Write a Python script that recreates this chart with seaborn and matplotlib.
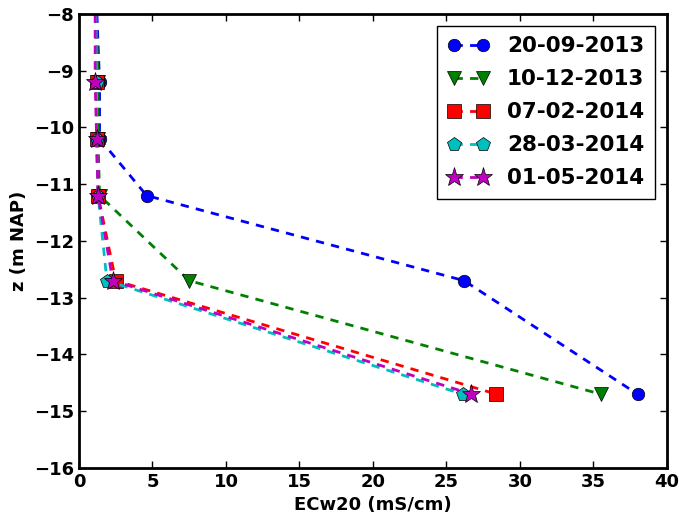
import matplotlib
matplotlib.use("Agg")
import matplotlib.pyplot as plt
import seaborn as sns
import pandas as pd

sns.set_style("ticks")
plt.rcParams['font.family'] = ['DejaVu Sans']
plt.rcParams['font.weight'] = 'bold'
for k in ['text.color', 'axes.labelcolor', 'xtick.color', 'ytick.color', 'axes.edgecolor']:
    plt.rcParams[k] = 'black'

depths = [-7.2, -9.2, -10.2, -11.2, -12.7, -14.7]
dates = ["20-09-2013", "10-12-2013", "07-02-2014", "28-03-2014", "01-05-2014"]
ec_20_09_2013 = [1.1, 1.4, 1.4, 4.6, 26.2, 38.0]
ec_10_12_2013 = [1.1, 1.3, 1.3, 1.4, 7.5, 35.5]
ec_07_02_2014 = [1.1, 1.2, 1.2, 1.3, 2.5, 28.4]
ec_28_03_2014 = [1.1, 1.2, 1.2, 1.3, 1.9, 26.1]
ec_01_05_2014 = [1.1, 1.1, 1.2, 1.3, 2.3, 26.7]
series = [ec_20_09_2013, ec_10_12_2013, ec_07_02_2014, ec_28_03_2014, ec_01_05_2014]

colors = ['#0000ff', '#008000', '#ff0000', '#00bfbf', '#bf00bf']
markers = ['o', 'v', 's', 'p', '*']
msizes = [9, 10, 10, 10, 14]

fig = plt.figure(figsize=(6.79, 5.19), dpi=100)
ax = fig.add_axes([0.1163, 0.0983, 0.866, 0.875])

for d, vals, c, m, ms in zip(dates, series, colors, markers, msizes):
    df = pd.DataFrame({"ec": vals, "z": depths})
    sns.lineplot(data=df, x="ec", y="z", sort=False, estimator=None, ax=ax,
                 color=c, marker=m, markersize=ms, dashes=(3, 2.6), linewidth=2,
                 markeredgecolor='k', markeredgewidth=0.5, label=d, legend=False)

ax.set_xlim(0, 40)
ax.set_ylim(-16, -8)
ax.set_xticks(range(0, 41, 5))
ax.set_yticks(range(-16, -7, 1))
ax.tick_params(direction='in', top=True, right=True, length=5, width=1, labelsize=13)
for lab in ax.get_xticklabels() + ax.get_yticklabels():
    lab.set_fontweight('bold')
for s in ax.spines.values():
    s.set_linewidth(2)
    s.set_color('black')
ax.set_xlabel("ECw20 (mS/cm)", fontsize=13, fontweight='bold')
ax.set_ylabel("z (m NAP)", fontsize=13, fontweight='bold')

leg = ax.legend(loc='upper right', numpoints=2, frameon=True,
                fancybox=False, edgecolor='k', framealpha=1,
                prop={'weight': 'bold', 'size': 15.5}, handlelength=1.95,
                handletextpad=0.8, borderaxespad=0.55, labelspacing=0.6,
                borderpad=0.5)
leg.get_frame().set_linewidth(1)

fig.savefig("out.png", dpi=100)
